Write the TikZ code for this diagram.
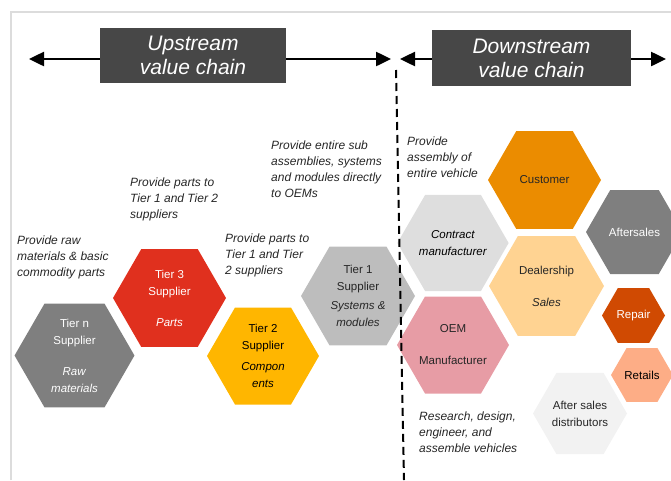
\documentclass[tikz,border=0pt]{standalone}
\usepackage{fontspec}
\setmainfont{Liberation Sans}
\usetikzlibrary{shapes.geometric,arrows.meta}

\definecolor{headgray}{HTML}{474747}
\definecolor{framegray}{HTML}{DCDCDC}
\definecolor{rawgray}{HTML}{7F7F7F}
\definecolor{partsred}{HTML}{E0301E}
\definecolor{compyellow}{HTML}{FFB600}
\definecolor{modgray}{HTML}{BDBDBD}
\definecolor{contractgray}{HTML}{DEDEDE}
\definecolor{custorange}{HTML}{EB8C00}
\definecolor{dealpeach}{HTML}{FFD392}
\definecolor{oempink}{HTML}{E79CA5}
\definecolor{repairorange}{HTML}{D04A02}
\definecolor{retailsalmon}{HTML}{FDAD86}
\definecolor{distgray}{HTML}{F2F2F2}
\definecolor{darktext}{HTML}{262626}

\tikzset{
  hex cell/.style={
    regular polygon, regular polygon sides=6, draw=none, inner sep=0pt,
    outer sep=0pt, align=center, font=\fontsize{11.5}{17}\selectfont
  },
  chain box/.style={
    rectangle, fill=headgray, text=white, inner sep=0pt, align=center,
    font=\fontsize{21}{24}\selectfont\itshape
  },
  note text/.style={
    anchor=north west, inner sep=0pt, align=left, text=darktext,
    font=\fontsize{12}{16}\selectfont\itshape
  },
  chain arrow/.style={
    line width=2.5pt,
    {Triangle[length=15pt,width=14pt]}-{Triangle[length=15pt,width=14pt]}
  },
  split line/.style={line width=2pt, dash pattern=on 8pt off 5pt},
  frame line/.style={line width=1.5pt, draw=framegray}
}

\begin{document}
\begin{tikzpicture}[x=1pt, y=-1pt]
  \useasboundingbox (0,0) rectangle (671,480);
  \draw[frame line] (11,480) -- (11,12) -- (671,12);

% ------------------------------------------------
% 上游：Tier n / Tier 3 / Tier 2 / Tier 1
% ------------------------------------------------
\begin{scope}
  \node[hex cell, fill=rawgray, text=white, minimum size=115pt]
    (tierN) at (74.5,355.5) {Tier n\\Supplier\\[14pt]\textit{Raw}\\\textit{materials}};
  \node[hex cell, fill=partsred, text=white, minimum size=113pt]
    (tierC) at (169.5,298) {Tier 3\\Supplier\\[14pt]\textit{Parts}};
  \node[hex cell, fill=compyellow, text=black, minimum size=112pt]
    (tierB) at (263,356) {Tier 2\\Supplier\\[4pt]\textit{Compon}\\\textit{ents}};
  \node[hex cell, fill=modgray, text=darktext, minimum size=114pt]
    (tierA) at (358,296) {Tier 1\\Supplier\\[2pt]\textit{Systems \&}\\\textit{modules}};

  \node[note text] (noteN) at (17,236) {Provide raw\\materials \& basic\\commodity parts};
  \node[note text] (noteC) at (130,178) {Provide parts to\\Tier 1 and Tier 2\\suppliers};
  \node[note text] (noteB) at (225,234) {Provide parts to\\Tier 1 and Tier\\2 suppliers};
  \node[note text] (noteA) at (271,141) {Provide entire sub\\assemblies, systems\\and modules directly\\to OEMs};
\end{scope}

% ------------------------------------------------
% 下游：整车厂、经销商、售后
% ------------------------------------------------
\begin{scope}
  \node[hex cell, fill=contractgray, text=black, minimum size=105pt]
    (contract) at (453,243) {\textit{Contract}\\\textit{manufacturer}};
  \node[hex cell, fill=oempink, text=darktext, minimum size=112pt]
    (oem) at (453,345) {OEM\\[15pt]Manufacturer};
  \node[hex cell, fill=custorange, text=darktext, minimum size=113pt]
    (customer) at (544.5,180) {Customer};
  \node[hex cell, fill=dealpeach, text=darktext, minimum size=115pt]
    (dealer) at (546.5,286) {Dealership\\[15pt]\textit{Sales}};
  \node[hex cell, fill=rawgray, text=white, minimum size=97pt]
    (aftersales) at (634.5,232) {Aftersales};
  \node[hex cell, fill=repairorange, text=white, minimum size=63pt]
    (repair) at (633.5,315.5) {Repair};
  \node[hex cell, fill=retailsalmon, text=black, minimum size=62pt]
    (retails) at (642,375) {Retails};
  \node[hex cell, fill=distgray, text=darktext, minimum size=94pt]
    (distrib) at (580,413.5) {After sales\\distributors};

  \node[note text] (noteOEM) at (407,137) {Provide\\assembly of\\entire vehicle};
  \node[note text] (noteRD) at (419,412) {Research, design,\\engineer, and\\assemble vehicles};
\end{scope}

% ------------------------------------------------
% 分界虚线与两条价值链箭头
% ------------------------------------------------
  \coordinate (splitTop) at (396,70);
  \coordinate (splitBot) at (404,480);
  \draw[split line] (splitTop) -- (splitBot);

  \coordinate (upL) at (29,59);
  \coordinate (upR) at (391,59);
  \coordinate (downL) at (400,59);
  \coordinate (downR) at (666,59);
  \draw[chain arrow] (upL) -- (upR);
  \draw[chain arrow] (downL) -- (downR);

  \node[chain box, minimum width=186pt, minimum height=55pt]
    (upbox) at (193,55.5) {Upstream\\value chain};
  \node[chain box, minimum width=199pt, minimum height=56pt]
    (downbox) at (531.5,58) {Downstream\\value chain};
\end{tikzpicture}
\end{document}
